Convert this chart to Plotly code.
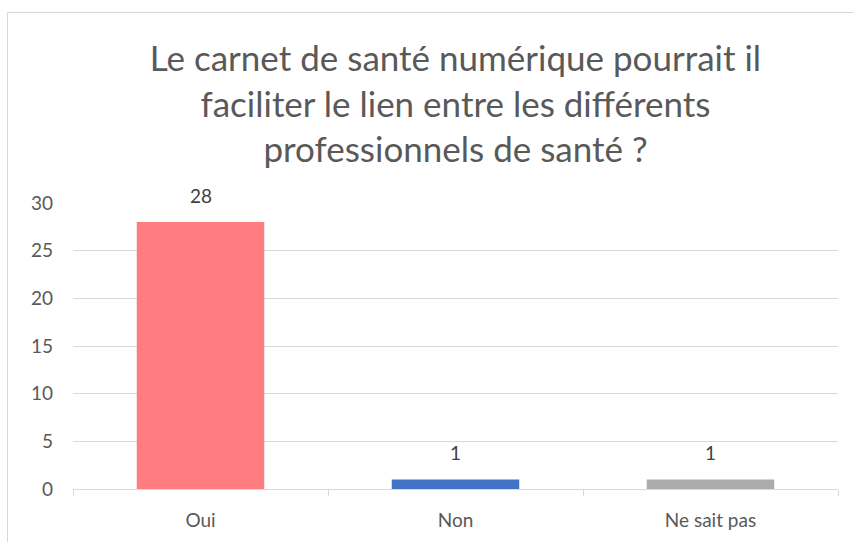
import plotly.graph_objects as go

categories = ["Oui", "Non", "Ne sait pas"]
values = [28, 1, 1]
colors = ["#FF7C80", "#4472C4", "#AEABAB"]
title_lines = ["Le carnet de santé numérique pourrait il",
               "faciliter le lien entre les différents",
               "professionnels de santé ?"]

FONT = "Lato, 'Open Sans', sans-serif"

fig = go.Figure()
fig.add_trace(go.Bar(
    x=categories, y=values, marker=dict(color=colors, line=dict(width=0)),
    width=0.5, hoverinfo="x+y",
))

for c, v in zip(categories, values):
    fig.add_annotation(x=c, y=v, text=str(v), showarrow=False,
                       yanchor="bottom", yshift=13,
                       font=dict(family=FONT, size=19, color="#404040"))

L, R, T, B = 73, 16, 203, 53
W, H = 854, 542
pw = W - L - R
ph = H - T - B

def px_x(px):
    return (px - L) / pw

def px_y(py):
    return (H - B - py) / ph

border = "#D9D9D9"
fig.add_shape(type="line", xref="paper", yref="paper",
              x0=px_x(7.5), x1=px_x(900), y0=px_y(12.5), y1=px_y(12.5),
              line=dict(color=border, width=1))
fig.add_shape(type="line", xref="paper", yref="paper",
              x0=px_x(7.5), x1=px_x(7.5), y0=px_y(12.5), y1=px_y(600),
              line=dict(color=border, width=1))

fig.update_layout(
    width=W, height=H,
    margin=dict(l=L, r=R, t=T, b=B, autoexpand=False),
    paper_bgcolor="white", plot_bgcolor="white",
    showlegend=False,
    title=dict(text="<br>".join(title_lines), x=0.5, xref="paper",
               xanchor="center", y=1 - 71 / H, yanchor="top",
               font=dict(family=FONT, size=35, color="#595959")),
    font=dict(family=FONT, color="#595959"),
    bargap=0.5,
)
fig.update_yaxes(range=[0, 30], dtick=5, showgrid=True, gridcolor="#D9D9D9",
                 gridwidth=1, zeroline=False, showline=False, ticks="",
                 automargin=False,
                 tickfont=dict(family=FONT, size=19, color="#595959"),
                 ticklabelstandoff=19)
fig.update_xaxes(showgrid=False, showline=True, linecolor="#D9D9D9", linewidth=1,
                 ticks="outside", tickson="boundaries", ticklen=6,
                 tickcolor="#D9D9D9", tickwidth=1, automargin=False,
                 tickfont=dict(family=FONT, size=19, color="#595959"),
                 ticklabelstandoff=14)

fig.write_html("out.html", config={"displayModeBar": False},
               post_script="document.body.style.margin='0';document.body.style.overflow='hidden';")
